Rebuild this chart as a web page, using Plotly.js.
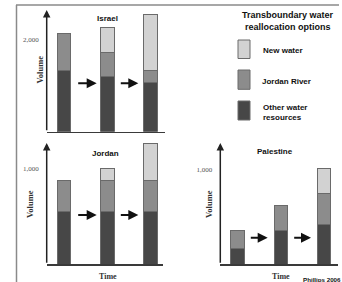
<!DOCTYPE html>
<html>
<head>
<meta charset="utf-8">
<script src="https://cdn.plot.ly/plotly-3.0.1.min.js"></script>
<style>html,body{margin:0;padding:0;background:#fff;}#chart{width:342px;height:282px;}</style>
</head>
<body>
<div id="chart"></div>
<script>
// ---- data ----
var stages = ['Stage 1', 'Stage 2', 'Stage 3'];
var seriesNames = ['Other water resources', 'Jordan River', 'New water'];

var israelOther  = [1320, 1205, 1060];
var israelJordan = [810, 513, 270];
var israelNew    = [null, 540, 1197];

var jordanOther  = [554, 554, 554];
var jordanJordan = [325, 325, 325];
var jordanNew    = [null, 125, 383];

var palOther  = [164, 361, 421];
var palJordan = [197, 253, 326];
var palNew    = [null, null, 259];

var panelTitles = ['Israel', 'Jordan', 'Palestine'];
var israelTicks = [2000], israelTickText = ['2,000'];
var otherTicks = [1000], otherTickText = ['1,000'];

// ---- styling ----
var colors = ['#474747', '#8c8c8c', '#d2d2d2'];
var edge = '#6a6a6a';
var W = 342, H = 282;
function px(x) { return x / W; }
function py(y) { return 1 - y / H; }

var barW = 0.31;
function mk(x, y, i, xa, ya) {
  return {
    type: 'bar', x: [0, 1, 2], y: y, name: seriesNames[i], width: barW,
    xaxis: xa, yaxis: ya, showlegend: false, hoverinfo: 'y',
    marker: {color: colors[i], line: {color: edge, width: 1}}
  };
}
var data = [
  mk(stages, israelOther, 0, 'x', 'y'), mk(stages, israelJordan, 1, 'x', 'y'), mk(stages, israelNew, 2, 'x', 'y'),
  mk(stages, jordanOther, 0, 'x2', 'y2'), mk(stages, jordanJordan, 1, 'x2', 'y2'), mk(stages, jordanNew, 2, 'x2', 'y2'),
  mk(stages, palOther, 0, 'x3', 'y3'), mk(stages, palJordan, 1, 'x3', 'y3'), mk(stages, palNew, 2, 'x3', 'y3')
];

function xax(dom, rng) {
  return {domain: dom, range: rng, showline: true, linecolor: '#3a3a3a', linewidth: 1.5,
    showgrid: false, zeroline: false, showticklabels: false, ticks: '', fixedrange: true};
}
function yax(dom, rng, tv, tt, anchor) {
  return {domain: dom, range: rng, anchor: anchor, showline: false, showgrid: false, zeroline: false,
    tickvals: tv, ticktext: tt, ticks: '', ticklabelstandoff: 7,
    tickfont: {family: 'Liberation Serif', size: 7, color: '#555'}, fixedrange: true};
}

var isYTop = 2634, joYTop = 1269, paYTop = 1277;

var annotations = [];
function txt(t, x, y, size, opts) {
  var a = {text: t, x: px(x), y: py(y), xref: 'paper', yref: 'paper', showarrow: false,
    font: {family: 'Liberation Sans', size: size, color: '#111'}, xanchor: 'center', yanchor: 'middle'};
  for (var k in opts) a[k] = opts[k];
  annotations.push(a);
}
// panel titles
txt('<b>' + panelTitles[0] + '</b>', 107.5, 18.5, 8);
txt('<b>' + panelTitles[1] + '</b>', 105, 153.5, 8);
txt('<b>' + panelTitles[2] + '</b>', 275, 151, 8);
// axis titles
var serif = {family: 'Liberation Serif', size: 8.5, color: '#333'};
txt('<b>Volume</b>', 39.5, 70, 8.5, {textangle: -90, font: serif});
txt('<b>Volume</b>', 30, 204, 8.5, {textangle: -90, font: serif});
txt('<b>Volume</b>', 209, 204, 8.5, {textangle: -90, font: serif});
txt('<b>Time</b>', 108, 276, 8, {font: {family: 'Liberation Serif', size: 8, color: '#333'}});
txt('<b>Time</b>', 281, 276, 8, {font: {family: 'Liberation Serif', size: 8, color: '#333'}});
txt('<b>Phillips 2006</b>', 342, 279.5, 6.2, {xanchor: 'right', borderpad: 0});
// legend text
txt('<b>Transboundary water</b>', 288, 15, 9);
txt('<b>reallocation options</b>', 288, 26.5, 9);
txt('<b>New water</b>', 262, 51, 8, {xanchor: 'left', borderpad: 0});
txt('<b>Jordan River</b>', 260.5, 81, 8, {xanchor: 'left', borderpad: 0});
txt('<b>Other water<br>resources</b>', 262, 112, 8, {xanchor: 'left', align: 'left', borderpad: 0});

// y-axis arrows
function yArrow(xa, ya, x0, top, len) {
  annotations.push({xref: xa, yref: ya, x: x0, y: top, ax: 0, ay: len, text: '', showarrow: true,
    arrowhead: 2, arrowsize: 1, arrowwidth: 1.5, arrowcolor: '#222'});
}
yArrow('x', 'y', -0.4, isYTop, 121.7);
yArrow('x2', 'y2', -0.4, joYTop, 121.3);
yArrow('x3', 'y3', -0.402, paYTop, 121.3);

// stage arrows
function sArrow(xa, ya, xh, y, len) {
  annotations.push({xref: xa, yref: ya, x: xh, y: y, ax: -len, ay: 0, text: '', showarrow: true,
    arrowhead: 2, arrowsize: 1, arrowwidth: 2, arrowcolor: '#111'});
}
sArrow('x', 'y', 0.755, 1048, 20); sArrow('x', 'y', 1.716, 1048, 19);
sArrow('x2', 'y2', 0.755, 516, 20); sArrow('x2', 'y2', 1.716, 516, 19);
sArrow('x3', 'y3', 0.693, 280, 18.4); sArrow('x3', 'y3', 1.693, 280, 18.3);

// legend swatches and frame lines
var shapes = [
  {type: 'line', xref: 'paper', yref: 'paper', x0: px(16), x1: px(339), y0: py(5), y1: py(5), line: {color: '#8a8a8a', width: 1.5}},
  {type: 'line', xref: 'paper', yref: 'paper', x0: px(16.5), x1: px(16.5), y0: py(5), y1: py(282), line: {color: '#8a8a8a', width: 1.5}}
];
var sw = [[40, 58.5, 2], [70, 89.3, 1], [101, 120, 0]];
sw.forEach(function (s) {
  shapes.push({type: 'rect', xref: 'paper', yref: 'paper', x0: px(238), x1: px(250), y0: py(s[1]), y1: py(s[0]),
    fillcolor: colors[s[2]], line: {color: edge, width: 1}});
});

var layout = {
  width: W, height: H, margin: {l: 0, r: 0, t: 0, b: 0},
  paper_bgcolor: '#fff', plot_bgcolor: 'rgba(0,0,0,0)', barmode: 'stack', bargap: 0,
  xaxis: xax([px(46.7), px(165)], [-0.4, 2.333]),
  yaxis: yax([py(131.7), py(10)], [0, isYTop], israelTicks, israelTickText, 'x'),
  xaxis2: xax([px(46.7), px(163)], [-0.4, 2.286]),
  yaxis2: yax([py(264.3), py(143)], [0, joYTop], otherTicks, otherTickText, 'x2'),
  xaxis3: xax([px(220.3), px(337.7)], [-0.402, 2.31]),
  yaxis3: yax([py(264.3), py(143)], [0, paYTop], otherTicks, otherTickText, 'x3'),
  annotations: annotations, shapes: shapes, showlegend: false
};
layout.xaxis.anchor = 'y'; layout.xaxis2.anchor = 'y2'; layout.xaxis3.anchor = 'y3';

Plotly.newPlot('chart', data, layout, {staticPlot: true, displayModeBar: false});
</script>
</body>
</html>
